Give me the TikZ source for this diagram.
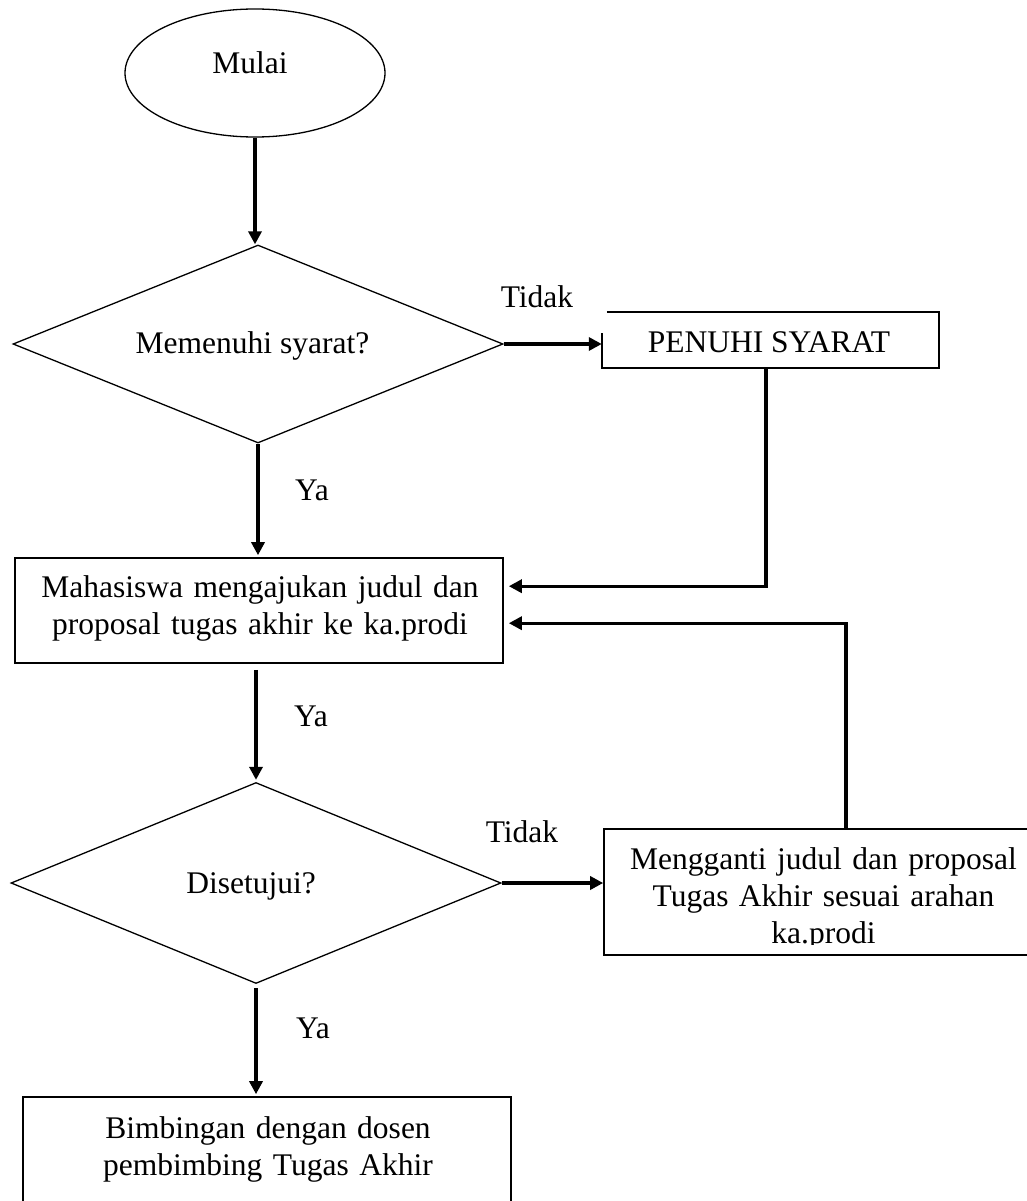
\documentclass[tikz,border=0pt]{standalone}
\usepackage{fontspec}
\setmainfont{Liberation Serif}
\usetikzlibrary{shapes.geometric,arrows.meta}
\begin{document}
\begin{tikzpicture}[x=1pt,y=-1pt,
  shp/.style={draw, line width=1.3pt, inner sep=0pt},
  boxs/.style={draw, line width=1.6pt, rectangle, inner sep=0pt},
  txt/.style={font=\fontsize{31.5}{37}\selectfont, inner sep=0pt},
  conn/.style={line width=3.3pt, -{Triangle[length=13pt,width=13pt]}},
]
\useasboundingbox (0,0) rectangle (1027,1201);

% start
\node[shp, ellipse, minimum width=260pt, minimum height=128pt] (mulai) at (255,73) {};
\node[txt, anchor=base] (tmulai) at (250,74) {Mulai};

% decision 1
\node[shp, diamond, minimum width=490pt, minimum height=198pt] (d1) at (258,344) {};
\node[txt, anchor=base] (td1) at (252.5,353) {Memenuhi syarat?};
\node[txt, anchor=base] (tidak1) at (537,307) {Tidak};

% penuhi syarat
\node[rectangle, inner sep=0pt, minimum width=337pt, minimum height=56pt] (p1) at (770.5,340) {};
\draw[line width=1.6pt] ([xshift=5pt]p1.north west) -- (p1.north east) -- (p1.south east) -- (p1.south west) -- ([yshift=-21pt]p1.north west);
\node[txt, anchor=base] (tp1) at (769,352) {PENUHI SYARAT};

\node[txt, anchor=base] (ya1) at (312,500) {Ya};

% mahasiswa
\node[boxs, minimum width=488pt, minimum height=105pt] (mhs) at (259,610.5) {};
\node[txt, anchor=base, text width=480pt, align=center] (tmhs) at (260,597) {Mahasiswa mengajukan judul dan\\proposal tugas akhir ke ka.prodi};

\node[txt, anchor=base] (ya2) at (311,726) {Ya};

% decision 2
\node[shp, diamond, minimum width=490pt, minimum height=201pt] (d2) at (256,883) {};
\node[txt, anchor=base] (td2) at (251,893) {Disetujui?};
\node[txt, anchor=base] (tidak2) at (522,842) {Tidak};

% mengganti
\node[boxs, minimum width=439pt, minimum height=126pt] (mg) at (823.5,892) {};
\begin{scope}
\clip (mg.north west) rectangle ([yshift=11pt]mg.south east);
\node[txt, anchor=base, text width=430pt, align=center] (tmg) at (823.5,869) {Mengganti judul dan proposal\\Tugas Akhir sesuai arahan\\ka.prodi};
\end{scope}

\node[txt, anchor=base] (ya3) at (313,1038) {Ya};

% bimbingan
\node[boxs, minimum width=488pt, minimum height=118pt] (bb) at (267,1156) {};
\node[txt, anchor=base, text width=480pt, align=center] (tbb) at (268,1138) {Bimbingan dengan dosen\\pembimbing Tugas Akhir};

% connectors
\draw[conn] (mulai.south) -- (mulai.south |- d1.north);
\draw[conn] (d1.east) -- (d1.east -| p1.west);
\draw[conn] ([xshift=-4.5pt]p1.south) |- ([xshift=5pt,yshift=-29pt]mhs.north east);
\draw[conn, shorten >=2pt] (d1.south) -- (d1.south |- mhs.north);
\draw[conn, shorten <=6pt, shorten >=2pt] (mhs.south -| d2.north) -- (d2.north);
\draw[conn] (d2.east) -- (d2.east -| mg.west);
\draw[conn] ([xshift=22.5pt]mg.north) |- ([xshift=5pt,yshift=-66pt]mhs.north east);
\draw[conn, shorten <=4pt, shorten >=2pt] (d2.south) -- (d2.south |- bb.north);
\end{tikzpicture}
\end{document}
